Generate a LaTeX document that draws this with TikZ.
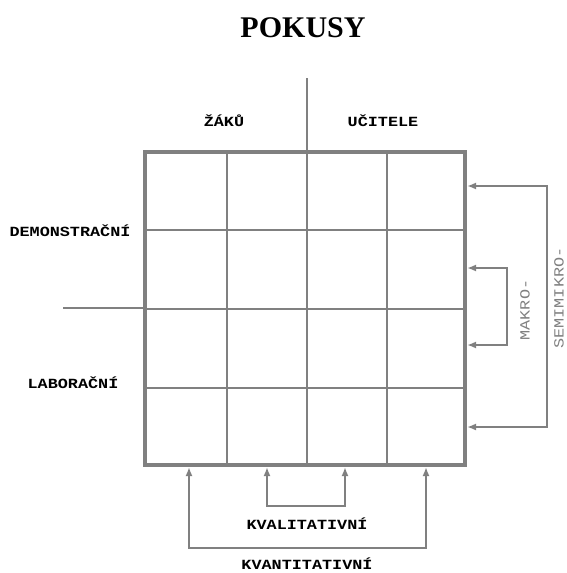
\documentclass[tikz,border=0pt]{standalone}
\usepackage{fontspec}
\setmainfont{Liberation Serif}
\newfontfamily\labfont[FakeStretch=1.2]{Liberation Mono}
\usepackage{tikz}
\usetikzlibrary{arrows.meta,positioning}
\definecolor{lineg}{RGB}{128,128,128}

\begin{document}
\begin{tikzpicture}[
    x=1pt, y=-1pt,
    frame/.style={draw=lineg, line width=3.5pt},
    gridline/.style={draw=lineg, line width=2pt},
    arrow/.style={{Latex[length=9pt,width=7pt]}-{Latex[length=9pt,width=7pt]}, draw=lineg, line width=1.8pt},
    lab/.style={font=\labfont\fontsize{14pt}{16pt}\selectfont\bfseries, inner sep=1pt},
    side/.style={font=\labfont\fontsize{14pt}{16pt}\selectfont, text=lineg, rotate=90, inner sep=1pt}
]
\useasboundingbox (0,0) rectangle (567,573);

% Title
\node[font=\bfseries\fontsize{30pt}{30pt}\selectfont, anchor=base] (title) at (303,37) {POKUSY};

% Axes
\draw[gridline] (307,78) -- (307,152);
\draw[gridline] (63,308) -- (145,308);

% Grid
\foreach \x in {227,307,387}
    \draw[gridline] (\x,152) -- (\x,465);
\foreach \y in {230,309,388}
    \draw[gridline] (145,\y) -- (465,\y);
\draw[frame] (145,152) rectangle (465,465);

% Arrow ends on the grid
\coordinate (semiA) at (467,186);
\coordinate (semiB) at (467,427);
\coordinate (makA) at (467,268);
\coordinate (makB) at (467,345);
\coordinate (kvantA) at (189,467);
\coordinate (kvantB) at (426,467);
\coordinate (kvalA) at (267,467);
\coordinate (kvalB) at (345,467);

% Connections
\draw[arrow] (semiA) -- ++(80,0) |- (semiB);
\draw[arrow] (makA) -- ++(40,0) |- (makB);
\draw[arrow] (kvantA) -- ++(0,81) -| (kvantB);
\draw[arrow] (kvalA) -- ++(0,39) -| (kvalB);

% Labels
\node[lab] (zaku) at (224,121) {ŽÁKŮ};
\node[lab] (ucitele) at (383,121) {UČITELE};
\node[lab] (demo) at (70,231) {DEMONSTRAČNÍ};
\node[lab] (labor) at (73,383) {LABORAČNÍ};
\node[lab] (kval) at (307,524) {KVALITATIVNÍ};
\node[lab] (kvant) at (307,564) {KVANTITATIVNÍ};
\node[side] (makro) at (525,310) {MAKRO-};
\node[side] (semi) at (559,298) {SEMIMIKRO-};

\end{tikzpicture}
\end{document}
